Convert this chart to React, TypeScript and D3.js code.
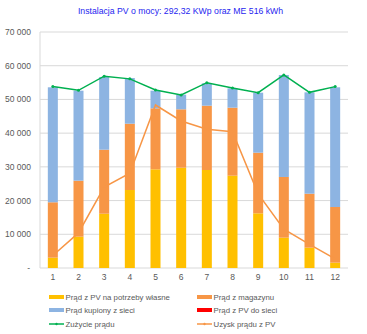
import React from "react";
import * as d3 from "d3";

const months = ["1", "2", "3", "4", "5", "6", "7", "8", "9", "10", "11", "12"];
const pvOwn = [3060, 9290, 16100, 23130, 29270, 29750, 29070, 27380, 16220, 8990, 6030, 1580];
const fromStorage = [16430, 16610, 18990, 19670, 18090, 17320, 19070, 20170, 17980, 18010, 16010, 16510];
const bought = [34110, 26700, 21560, 13550, 5240, 4330, 6640, 5740, 17800, 30250, 30060, 35510];
const pvToGrid = [0, 0, 0, 0, 0, 0, 0, 0, 0, 0, 0, 0];
const consumption = [53800, 52700, 56900, 56100, 52800, 51300, 54970, 53400, 52000, 57250, 52100, 53800];
const pvYield = [3700, 10400, 24000, 28100, 48350, 43600, 41130, 40440, 22000, 11500, 7000, 2700];
const yTicks = [0, 10000, 20000, 30000, 40000, 50000, 60000, 70000];

const title = "Instalacja PV o mocy: 292,32 KWp oraz ME 516 kWh";
const seriesNames = ["Prąd z PV na potrzeby własne", "Prąd z magazynu", "Prąd kupiony z sieci", "Prąd z PV do sieci", "Zużycie prądu", "Uzysk prądu z PV"];
const colors = ["#FFC000", "#F79646", "#8DB4E2", "#FF0000", "#00B050", "#F79646"];

const W = 367, H = 334;
const m = { left: 40, right: 348, top: 32, bottom: 268 };
const font = "'Liberation Sans', Arial, sans-serif";

export default function App() {
  const x = d3.scaleBand<string>().domain(months).range([m.left, m.right]).paddingInner(0).paddingOuter(0);
  const y = d3.scaleLinear().domain([0, 70000]).range([m.bottom, m.top]);
  const bw = x.bandwidth() * 0.39;
  const stackData = months.map((mo, i) => ({ mo, a: pvOwn[i], b: fromStorage[i], c: bought[i], d: pvToGrid[i] }));
  const stack = d3.stack<any>().keys(["a", "b", "c", "d"])(stackData);
  const cx = (i: number) => (x(months[i]) as number) + x.bandwidth() / 2;
  const lineGen = d3.line<number>().x((_, i) => cx(i)).y((v) => y(v));
  const fmt = (v: number) => (v === 0 ? "-" : d3.format(",")(v).replace(/,/g, " "));

  const legend = [
    { name: seriesNames[0], color: colors[0], type: "bar", col: 0, row: 0 },
    { name: seriesNames[1], color: colors[1], type: "bar", col: 1, row: 0 },
    { name: seriesNames[2], color: colors[2], type: "bar", col: 0, row: 1 },
    { name: seriesNames[3], color: colors[3], type: "bar", col: 1, row: 1 },
    { name: seriesNames[4], color: colors[4], type: "line", col: 0, row: 2 },
    { name: seriesNames[5], color: colors[5], type: "line", col: 1, row: 2 },
  ];
  const colX = [49, 197];
  const rowY = [297, 310, 324];

  return (
    <svg width={W} height={H} style={{ position: "absolute", left: 0, top: 0, background: "#fff" }} fontFamily={font}>
      <text x={180.5} y={14} textAnchor="middle" fontSize={8.7} fill="#2626F0">{title}</text>
      {yTicks.map((t) => (
        <g key={t}>
          <line x1={m.left} x2={m.right} y1={y(t)} y2={y(t)} stroke="#D9D9D9" strokeWidth={1} />
          <text x={t === 0 ? 30 : 31} y={y(t) + 3} textAnchor="end" fontSize={8.5} fill="#595959">{fmt(t)}</text>
        </g>
      ))}
      <line x1={m.left} x2={m.left} y1={m.top} y2={m.bottom} stroke="#D9D9D9" />
      {stack.map((s, si) => (
        <g key={si} fill={colors[si]}>
          {s.map((d, i) => (
            <rect key={i} x={cx(i) - bw / 2} width={bw} y={y(d[1])} height={Math.max(0, y(d[0]) - y(d[1]))} />
          ))}
        </g>
      ))}
      <path d={lineGen(pvYield) || ""} fill="none" stroke={colors[5]} strokeWidth={1.5} />
      <path d={lineGen(consumption) || ""} fill="none" stroke={colors[4]} strokeWidth={1.5} />
      {consumption.map((v, i) => (
        <circle key={i} cx={cx(i)} cy={y(v)} r={1.5} fill={colors[4]} />
      ))}
      {months.map((mo, i) => (
        <text key={mo} x={cx(i)} y={280} textAnchor="middle" fontSize={8.5} fill="#595959">{mo}</text>
      ))}
      {legend.map((l, i) => (
        <g key={i} transform={`translate(${colX[l.col]},${rowY[l.row]})`}>
          {l.type === "bar" ? (
            <rect x={0} y={-2} width={15} height={4} fill={l.color} />
          ) : (
            <g>
              <line x1={0} x2={15} y1={0} y2={0} stroke={l.color} strokeWidth={1.5} />
              <circle cx={7.5} cy={0} r={1.2} fill={l.color} />
            </g>
          )}
          <text x={16.5} y={3} fontSize={7.8} fill="#595959">{l.name}</text>
        </g>
      ))}
    </svg>
  );
}
